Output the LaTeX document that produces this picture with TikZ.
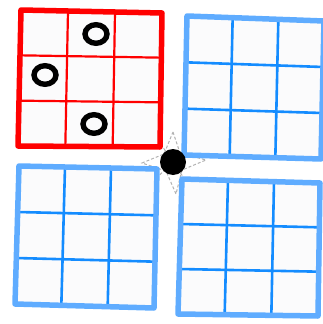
\documentclass[tikz,border=0pt]{standalone}
\usetikzlibrary{calc}
\definecolor{redb}{RGB}{255,0,0}
\definecolor{blueo}{RGB}{95,172,255}
\definecolor{bluei}{RGB}{20,140,255}
\definecolor{cellf}{RGB}{251,251,252}
\tikzset{
  cellfill/.style={fill=cellf},
  rimred/.style={draw=redb,line width=5.5pt,line join=round},
  innred/.style={draw=redb,line width=2.2pt},
  rimblue/.style={draw=blueo,line width=5.5pt,line join=round},
  innblue/.style={draw=bluei,line width=2.6pt},
  ring/.style={draw=black,line width=5.4pt},
  sparkle/.style={draw=gray!60,line width=1pt,dash pattern=on 3pt off 2pt},
}
\newcommand\myboard[7]{%
  \coordinate (#1a) at #2;
  \coordinate (#1b) at #3;
  \coordinate (#1c) at #4;
  \coordinate (#1d) at #5;
  \fill[cellfill] (#1a)--(#1b)--(#1c)--(#1d)--cycle;
  \foreach \t in {0.3333,0.6667} {
    \draw[#7] ($(#1a)!\t!(#1b)$) -- ($(#1d)!\t!(#1c)$);
    \draw[#7] ($(#1a)!\t!(#1d)$) -- ($(#1b)!\t!(#1c)$);
  }
  \draw[#6] (#1a)--(#1b)--(#1c)--(#1d)--cycle;
}
\begin{document}
\begin{tikzpicture}[x=1pt,y=-1pt]
\useasboundingbox (0,0) rectangle (323,324);
% sparkle behind dot
\coordinate (sc) at (173,162);
\draw[sparkle] (173,132) -- (180,153) -- (206,160) -- (182,170) -- (176,194) -- (166,171) -- (142,163) -- (164,154) -- cycle;
\draw[sparkle] (158,140) -- (188,184);
\draw[sparkle] (195,142) -- (152,182);
% boards
\myboard{tr}{(187,16)}{(324,21)}{(321,159)}{(184,155)}{rimblue}{innblue}
\myboard{bl}{(19,166)}{(157,169)}{(154,308)}{(15,304)}{rimblue}{innblue}
\myboard{br}{(182,179)}{(320,183)}{(318,316)}{(178,314)}{rimblue}{innblue}
\myboard{tl}{(21,10)}{(162,13)}{(160,147)}{(18,146)}{rimred}{innred}
% rings
\draw[ring] (96,34) ellipse [x radius=11,y radius=9.3];
\draw[ring] (45,75) ellipse [x radius=11,y radius=9.3];
\draw[ring] (94,124) ellipse [x radius=11,y radius=9.3];
% center dot
\node[fill=black,circle,inner sep=0pt,minimum size=26pt] (dot) at (sc) {};
\end{tikzpicture}
\end{document}
